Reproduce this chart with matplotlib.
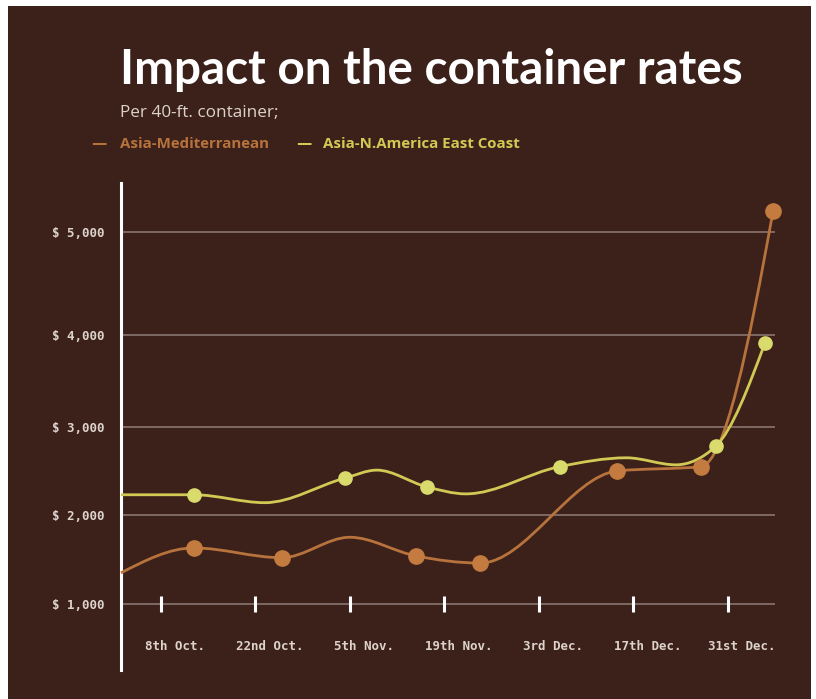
import numpy as np
import matplotlib
matplotlib.use("Agg")
import matplotlib.pyplot as plt
from matplotlib.path import Path
from matplotlib.patches import PathPatch, Rectangle

# days counted from 8th Oct
tick_days = [0, 14, 28, 42, 56, 70, 84]
tick_labels = ["8th Oct.", "22nd Oct.", "5th Nov.", "19th Nov.", "3rd Dec.", "17th Dec.", "31st Dec."]

# Asia-Mediterranean: curve knots (day, $) and which knots carry a marker
med_days = [-5.9, 4.9, 17.9, 28.0, 37.8, 47.3, 67.6, 80.0, 90.7]
med_vals = [1350, 1630, 1520, 1750, 1540, 1460, 2500, 2550, 5200]
med_mark = [False, True, True, False, True, True, True, True, True]

# Asia-N.America East Coast
nam_days = [-5.9, 4.9, 15.4, 27.3, 32.0, 39.4, 45.2, 59.1, 69.0, 76.3, 82.2, 89.5]
nam_vals = [2230, 2230, 2140, 2420, 2510, 2320, 2240, 2550, 2650, 2570, 2780, 3910]
nam_mark = [False, True, False, True, False, True, False, True, False, False, True, True]

y_ticks = [1000, 2000, 3000, 4000, 5000]

BG = "#3c211b"
ORANGE = "#b8733c"
ORANGE_MK = "#c47b3f"
YELLOW = "#d2c955"
YELLOW_MK = "#d9dc6c"
GRID = "#8a7570"
TXT = "#ddd3cb"

W, H = 816, 699

# the picture's value axis is slightly uneven: map value -> pixel height
_sv = [0, 1000, 2000, 3000, 4000, 5000, 6000]
_sp = [6, 95, 184, 272, 364, 467, 570]


def fwd(v):
    return np.interp(v, _sv, _sp)


def inv(p):
    return np.interp(p, _sp, _sv)


def smooth_path(xs, ys):
    # monotone cubic (same idea as d3.curveMonotoneX)
    xs = np.asarray(xs, float)
    ys = np.asarray(ys, float)
    n = len(xs)
    h = np.diff(xs)
    d = np.diff(ys) / h
    m = np.zeros(n)
    for i in range(1, n - 1):
        p = (d[i - 1] * h[i] + d[i] * h[i - 1]) / (h[i - 1] + h[i])
        m[i] = (np.sign(d[i - 1]) + np.sign(d[i])) * min(abs(d[i - 1]), abs(d[i]), 0.5 * abs(p))
    m[0] = (3 * d[0] - m[1]) / 2 if n > 2 else d[0]
    m[-1] = (3 * d[-1] - m[-2]) / 2 if n > 2 else d[-1]
    verts = [(xs[0], ys[0])]
    codes = [Path.MOVETO]
    for i in range(n - 1):
        dx = h[i]
        verts += [(xs[i] + dx / 3, ys[i] + m[i] * dx / 3),
                  (xs[i + 1] - dx / 3, ys[i + 1] - m[i + 1] * dx / 3),
                  (xs[i + 1], ys[i + 1])]
        codes += [Path.CURVE4] * 3
    return Path(verts, codes)


fig = plt.figure(figsize=(W / 100, H / 100), dpi=100, facecolor="white")
fig.patches.append(Rectangle((8 / W, 0), (811 - 8) / W, (H - 6) / H,
                             transform=fig.transFigure, facecolor=BG, edgecolor="none", zorder=-10))


def px(x, y):
    return x / W, 1 - y / H


title = fig.text(*px(120, 84), "Impact on the container rates", fontsize=35, fontweight="bold",
                 family="Lato", color="white", va="baseline")
# fit the title to the width it has in the reference
r = fig.canvas.get_renderer()
tw = title.get_window_extent(r).width
title.set_fontsize(35 * 625 / tw)

fig.text(*px(120, 117), "Per 40-ft. container;", fontsize=12.3, family="Open Sans",
         color=TXT, va="baseline")
fig.text(*px(91, 148), "—", fontsize=11, fontweight="bold", color=ORANGE, va="baseline",
         family="DejaVu Sans")
fig.text(*px(120, 148), "Asia-Mediterranean", fontsize=10.8, fontweight="bold",
         color=ORANGE, va="baseline", family="Open Sans")
fig.text(*px(296, 148), "—", fontsize=11, fontweight="bold", color=YELLOW, va="baseline",
         family="DejaVu Sans")
fig.text(*px(323, 148), "Asia-N.America East Coast", fontsize=10.8, fontweight="bold",
         color=YELLOW, va="baseline", family="Open Sans")

ax_left, ax_right, ax_top, ax_bot = 121, 775, 183, 670
ax = fig.add_axes([ax_left / W, 1 - ax_bot / H, (ax_right - ax_left) / W, (ax_bot - ax_top) / H])
ax.set_facecolor("none")
ax.set_yscale("function", functions=(fwd, inv))
ax.set_ylim(inv(H - ax_bot), inv(H - ax_top))
ax.set_xlim(-5.9, 91.0)

for s in ["top", "right", "bottom"]:
    ax.spines[s].set_visible(False)
ax.spines["left"].set_color("white")
ax.spines["left"].set_linewidth(2.2)

ax.set_yticks(y_ticks)
ax.set_yticklabels(["$ {:,}".format(v) for v in y_ticks], family="DejaVu Sans Mono",
                   fontsize=9, fontweight="bold", color=TXT)
ax.tick_params(axis="y", length=0, pad=12)
ax.set_xticks([])
ax.yaxis.grid(True, color=GRID, linewidth=1.2)
ax.set_axisbelow(True)

# tick marks on the $1,000 line, labels below
ax.plot(tick_days, [1000] * len(tick_days), ls="none", marker="|", markersize=12,
        mew=2.2, color="white", zorder=3)
for d, lab in zip(tick_days, tick_labels):
    ax.annotate(lab, xy=(d, 1000), xytext=(14, -43), textcoords="offset pixels",
                ha="center", va="center", family="DejaVu Sans Mono", fontsize=9,
                fontweight="bold", color=TXT)

for xs, ys, mk, lc, mc, ms in [(med_days, med_vals, med_mark, ORANGE, ORANGE_MK, 11),
                               (nam_days, nam_vals, nam_mark, YELLOW, YELLOW_MK, 9.5)]:
    ax.add_patch(PathPatch(smooth_path(xs, ys), facecolor="none", edgecolor=lc,
                           linewidth=2.0, zorder=4, clip_on=False))
    mx = [x for x, k in zip(xs, mk) if k]
    my = [y for y, k in zip(ys, mk) if k]
    ax.plot(mx, my, ls="none", marker="o", markersize=ms, color=mc, zorder=5, clip_on=False)

fig.savefig("out.png", dpi=100, facecolor="white")
